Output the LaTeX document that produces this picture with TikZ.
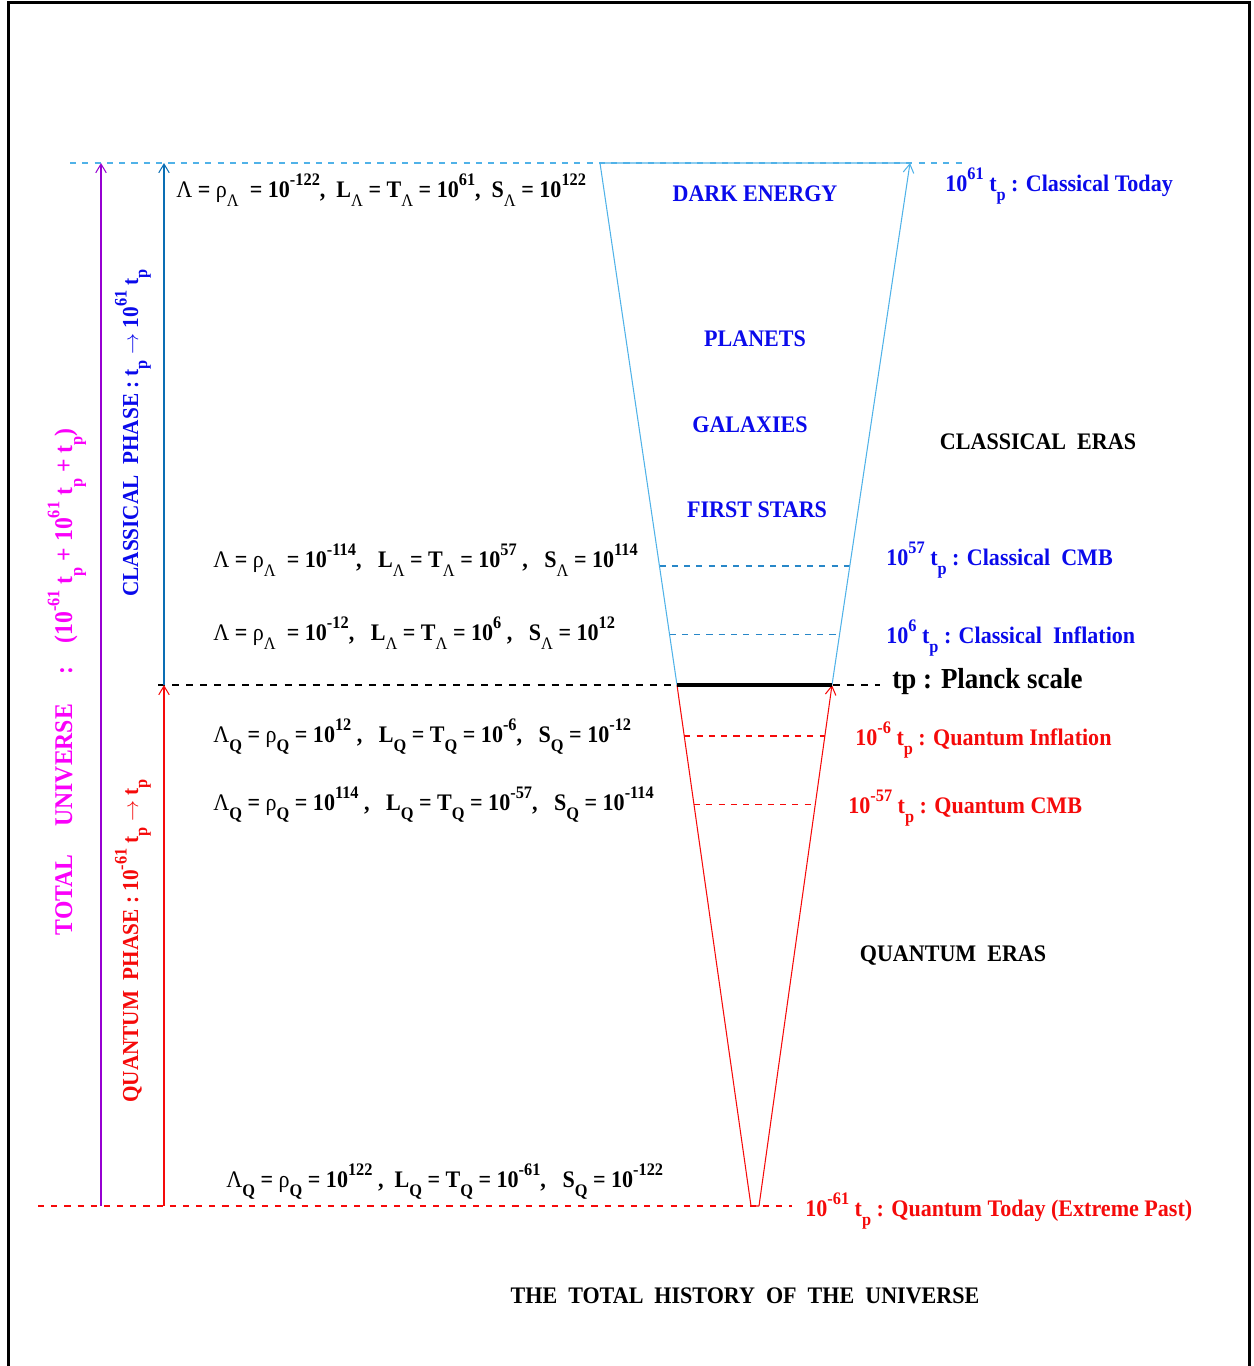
\documentclass[tikz,border=0pt]{standalone}
\usepackage{fontspec}
\setmainfont{Liberation Serif}[FakeStretch=0.93]
\usetikzlibrary{arrows.meta,calc}
\definecolor{skyline}{RGB}{80,178,232}
\definecolor{classblue}{RGB}{10,110,180}
\definecolor{dashblue}{RGB}{40,135,200}
\definecolor{erablue}{RGB}{10,10,235}
\definecolor{quantred}{RGB}{245,10,10}
\definecolor{totalpink}{RGB}{250,0,250}
\definecolor{totalviolet}{RGB}{150,0,210}

\newcommand{\mainsize}{\fontsize{13.5}{15}\selectfont\bfseries}
\newcommand{\pw}[1]{\raisebox{0.5em}{\fontsize{10}{10}\selectfont #1}}
\newcommand{\ix}[1]{\raisebox{-0.4em}{\fontsize{10}{10}\selectfont #1}}
\newcommand{\Lm}{{\mdseries Λ}}
\newcommand{\rh}{{\mdseries ρ}}

\begin{document}
\begin{tikzpicture}[
    x=0.02cm, y=-0.02cm,
    edge/.style={line width=0.6pt},
    level/.style={line width=0.7pt, dash pattern=on 3.5pt off 3.5pt},
    uparrow/.style={line width=0.6pt, -{Straight Barb[length=5pt,width=6pt]}},
    eqn/.style={anchor=base west, font=\mainsize, inner sep=0pt},
    era/.style={anchor=base, font=\mainsize, text=erablue, inner sep=0pt},
    timemark/.style={anchor=base west, font=\mainsize, inner sep=0pt},
    phase/.style={rotate=90, font=\fontsize{13}{15}\selectfont\bfseries, inner sep=0pt},
]
\useasboundingbox (0,0) rectangle (1254,1366);

% Frame
\draw[line width=1.7pt] (8.5,1366) -- (8.5,2.5) -- (1249.5,2.5) -- (1249.5,1366);

% Funnel corners and level ends
\coordinate (ctl) at (600,163);
\coordinate (ctr) at (910,163);
\coordinate (pl) at (677,685);
\coordinate (pr) at (832,685);
\coordinate (qbl) at (751,1206);
\coordinate (qbr) at (759,1206);
\coordinate (todayL) at (70,163);
\coordinate (todayR) at (962,163);
\coordinate (planckL) at (158,685);
\coordinate (planckR) at (880,685);
\coordinate (pastL) at (38,1206);
\coordinate (pastR) at (792,1206);

% Time levels
\draw[level, skyline] (todayL) -- (todayR);
\draw[level, black, dash pattern=on 4pt off 4pt] (planckL) -- (planckR);
\draw[level, quantred, dash pattern=on 3.5pt off 4pt] (pastL) -- (pastR);
\draw[level, dashblue] ($(ctl)!0.772!(pl)$) -- ($(ctr)!0.772!(pr)$);
\draw[level, dashblue] ($(ctl)!0.903!(pl)$) -- ($(ctr)!0.903!(pr)$);
\draw[level, quantred] ($(pl)!0.098!(qbl)$) -- ($(pr)!0.098!(qbr)$);
\draw[level, quantred] ($(pl)!0.229!(qbl)$) -- ($(pr)!0.229!(qbr)$);

% Phase arrows
\draw[uparrow, totalviolet] (101,1206) -- (101,163);
\draw[uparrow, classblue] (164,685) -- (164,163);
\draw[uparrow, quantred] (164,1206) -- (164,685);

% Classical funnel
\draw[edge, skyline] (pl) -- (ctl) -- (ctr);
\draw[uparrow, skyline] (pr) -- (ctr);

% Quantum funnel
\draw[edge, quantred] (pl) -- (qbl) -- (qbr);
\draw[uparrow, quantred] (qbr) -- (pr);

% Planck scale
\draw[line width=2.8pt] (pl) -- (pr);

% Eras inside the funnel
\node[era] (dark) at (755,201) {DARK ENERGY};
\node[era] (planets) at (755,346) {PLANETS};
\node[era] (galaxies) at (750,432) {GALAXIES};
\node[era] (stars) at (757,517) {FIRST STARS};
\node[era, text=black] (classeras) at (1038,449) {CLASSICAL~~ERAS};
\node[era, text=black] (quanteras) at (953,961) {QUANTUM~~ERAS};

% Values
\node[eqn] (eqtoday) at (176,197)
    {\Lm\ = \rh\ix{\Lm}~ = 10\pw{-122},~ L\ix{\Lm} = T\ix{\Lm} = 10\pw{61},~ S\ix{\Lm} = 10\pw{122}};
\node[eqn] (eqccmb) at (213,567)
    {\Lm\ = \rh\ix{\Lm}~ = 10\pw{-114},~~ L\ix{\Lm} = T\ix{\Lm} = 10\pw{57}~,~~ S\ix{\Lm} = 10\pw{114}};
\node[eqn] (eqcinfl) at (213,640)
    {\Lm\ = \rh\ix{\Lm}~ = 10\pw{-12},~~ L\ix{\Lm} = T\ix{\Lm} = 10\pw{6}~,~~ S\ix{\Lm} = 10\pw{12}};
\node[eqn] (eqqinfl) at (213,742)
    {\Lm\ix{Q} = \rh\ix{Q} = 10\pw{12}~,~~ L\ix{Q} = T\ix{Q} = 10\pw{-6},~~ S\ix{Q} = 10\pw{-12}};
\node[eqn] (eqqcmb) at (213,810)
    {\Lm\ix{Q} = \rh\ix{Q} = 10\pw{114}~,~~ L\ix{Q} = T\ix{Q} = 10\pw{-57},~~ S\ix{Q} = 10\pw{-114}};
\node[eqn] (eqqtoday) at (226,1187)
    {\Lm\ix{Q} = \rh\ix{Q} = 10\pw{122}~,~ L\ix{Q} = T\ix{Q} = 10\pw{-61},~~ S\ix{Q} = 10\pw{-122}};

% Time marks
\node[timemark, text=erablue] (mtoday) at (945,191) {10\pw{61} t\ix{p} : Classical Today};
\node[timemark, text=erablue] (mccmb) at (886,565) {10\pw{57} t\ix{p} : Classical~ CMB};
\node[timemark, text=erablue] (mcinfl) at (886,643) {10\pw{6} t\ix{p} : Classical~ Inflation};
\node[timemark, font=\fontsize{16.5}{19}\selectfont\bfseries] (mplanck) at (892,688) {tp : Planck scale};
\node[timemark, text=quantred] (mqinfl) at (855,745) {10\pw{-6} t\ix{p} : Quantum Inflation};
\node[timemark, text=quantred] (mqcmb) at (848,813) {10\pw{-57} t\ix{p} : Quantum CMB};
\node[timemark, text=quantred] (mqtoday) at (805,1216) {10\pw{-61} t\ix{p} : Quantum Today (Extreme Past)};

% Phases
\node[phase, text=totalpink, font=\fontsize{14.5}{16}\selectfont\bfseries] (total) at (67,682)
    {TOTAL\hspace{16pt}UNIVERSE\hspace{17pt}:\hspace{13pt}(10\pw{-61} t\ix{p} + 10\pw{61} t\ix{p} + t\ix{p})};
\node[phase, text=erablue] (classical) at (133,433)
    {CLASSICAL~~PHASE : t\ix{p} $\rightarrow$ 10\pw{61} t\ix{p}};
\node[phase, text=quantred] (quantum) at (133,941)
    {QUANTUM~~PHASE : 10\pw{-61} t\ix{p} $\rightarrow$ t\ix{p}};

% Title
\node[era, text=black] (title) at (745,1303)
    {THE~~TOTAL~~HISTORY~~OF~~THE~~UNIVERSE};

\end{tikzpicture}
\end{document}
